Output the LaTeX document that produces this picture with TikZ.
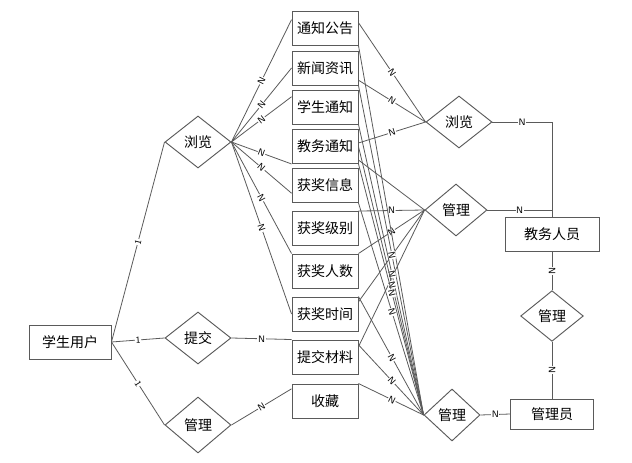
\documentclass[tikz,border=0pt]{standalone}
\usepackage{fontspec}
\newfontfamily\cjk{Noto Sans CJK SC}
\usetikzlibrary{shapes.geometric}
\definecolor{lc}{HTML}{5A5A5A}
\tikzset{
  ent/.style={draw=lc,line width=0.7pt,minimum width=49.5pt,minimum height=25.5pt,inner sep=0pt,font=\cjk\fontsize{10.5}{12}\selectfont},
  rel/.style={draw=lc,line width=0.7pt,diamond,inner sep=0pt,minimum width=49.5pt,minimum height=39pt,font=\cjk\fontsize{10.5}{12}\selectfont},
  lab/.style={fill=white,inner sep=0.4pt,font=\sffamily\fontsize{7}{8}\selectfont},
  con/.style={draw=lc,line width=0.6pt}
}

\begin{document}
\begin{tikzpicture}[x=0.75pt,y=-0.75pt]
\useasboundingbox (0,0) rectangle (632,463);
% entity column
\foreach \nm/\y/\txt in {tzgg/28/通知公告,xwzx/68/新闻资讯,xstz/107/学生通知,jwtz/146.5/教务通知,
  hjxx/185.5/获奖信息,hjjb/228.5/获奖级别,hjrs/271/获奖人数,hjsj/314/获奖时间,tjcl/357/提交材料,sc/401/收藏}
  \node[ent] (\nm) at (325,\y) {\txt};
\node[ent,minimum width=61.5pt] (xsyh) at (70,342) {学生用户};
\node[ent,minimum width=70.5pt] (jwry) at (552,234) {教务人员};
\node[ent,minimum width=62pt,minimum height=22.5pt] (gly) at (552,414) {管理员};
% relations
\node[rel] (ll1) at (198,142) {浏览};
\node[rel] (tj) at (198,338) {提交};
\node[rel,minimum height=42pt] (gl1) at (198,425) {管理};
\node[rel] (ll2) at (459,122) {浏览};
\node[rel,minimum width=46.5pt] (gl2) at (456,210) {管理};
\node[rel,minimum width=42pt] (gl3) at (452,415) {管理};
\node[rel,minimum width=47pt,minimum height=38pt] (gl4) at (552,316) {管理};
% student side
\foreach \r in {ll1,tj,gl1}
  \draw[con] (xsyh.east) -- node[lab,sloped]{1} (\r.west);
\foreach \t in {tzgg.166,xwzx.west,xstz.163,jwtz.south west,hjxx.193,hjrs.north west,hjsj.west}
  \draw[con] (ll1.east) -- node[lab,sloped]{N} (\t);
\draw[con] (tj.east) -- node[lab]{N} (tjcl.north west);
\draw[con] (gl1.east) -- node[lab,sloped]{N} (sc.160);
% staff side
\foreach \t in {tzgg.9,xwzx.-20,jwtz.6}
  \draw[con] (\t) -- node[lab,sloped]{N} (ll2.west);
\draw[con] (ll2.east) -- node[lab]{N} (ll2.east -| jwry.north) -- (jwry.north);
\draw[con] (gl2.east) -- node[lab]{N} (gl2.east -| jwry.north);
\foreach \t in {jwtz.-22,hjsj.20,tjcl.17}
  \draw[con] (\t) -- (gl2.west);
\foreach \t in {hjjb.north east,hjrs.north east}
  \draw[con] (\t) -- node[lab,sloped]{N} (gl2.west);
% admin side
\draw[con] (tzgg.south east) -- (gl3.west);
\foreach \t in {xwzx.south east,xstz.south east,jwtz.east,jwtz.south east,hjxx.south east,hjsj.north east,tjcl.20,sc.north east}
  \draw[con] (\t) -- node[lab,sloped,pos=0.515]{N} (gl3.west);
\draw[con] (gl3.east) -- node[lab]{N} (gly.west);
\draw[con] (jwry.south) -- node[lab,sloped]{N} (gl4.north);
\draw[con] (gl4.south) -- node[lab,sloped]{N} (gly.north);
\end{tikzpicture}
\end{document}
